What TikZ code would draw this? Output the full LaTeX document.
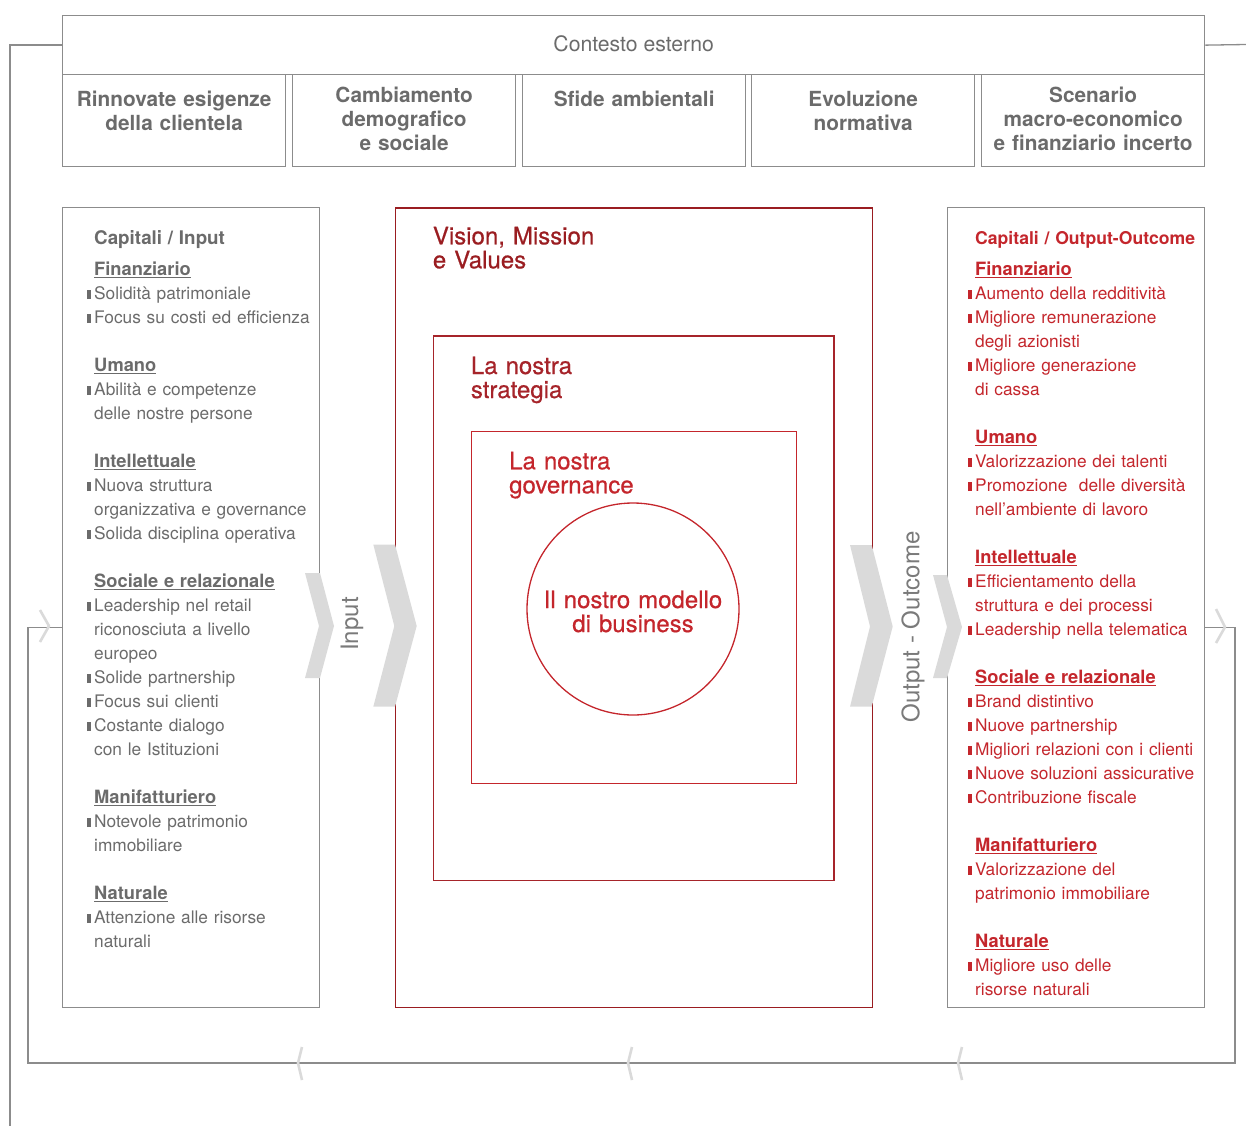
\documentclass[tikz,border=0pt]{standalone}
\usepackage{fontspec}
\setmainfont{TeX Gyre Heros}
\newfontfamily\medio[FakeBold=0.6]{TeX Gyre Heros}
\usetikzlibrary{positioning}

\definecolor{grigio}{HTML}{6B6B6B}
\definecolor{tenue}{HTML}{7A7A7A}
\definecolor{lineagrigia}{HTML}{8C8C8C}
\definecolor{chiaro}{HTML}{DADADA}
\definecolor{rosso}{HTML}{C4262C}
\definecolor{scuro}{HTML}{9A1D21}
\definecolor{cupo}{HTML}{A6242A}

\newcommand\tacca{\leavevmode\llap{\rule{3.8pt}{9.5pt}\hspace{3pt}}}
\newcommand\capo[1]{\leavevmode\setbox0\hbox{\fontsize{18.3}{24}\selectfont\bfseries #1}\rlap{\rule[-3.2pt]{\wd0}{1.3pt}}\box0}

\begin{document}
\begin{tikzpicture}
        [%%%%%%%%%%%%%%%%%%%%%%%%%%%%%%
        x=1pt,y=-1pt,
        cornice/.style={rectangle,draw=lineagrigia,line width=1.3pt,inner sep=0pt,anchor=north west},
        titolo/.style={anchor=base,align=center,text width=220pt,inner sep=0pt,text=grigio,font=\fontsize{20.8}{24}\selectfont\bfseries},
        colonna/.style={anchor=base west,align=left,text width=300pt,inner sep=0pt,font=\fontsize{17.3}{24}\selectfont},
        voce/.style={anchor=base west,align=left,text width=250pt,inner sep=0pt,font=\medio\fontsize{24}{24}\selectfont},
        verticale/.style={rotate=90,inner sep=0pt,text=tenue,font=\fontsize{24}{24}\selectfont},
        freccia/.style={fill=chiaro},
        segno/.style={draw=chiaro,line width=2.6pt,line join=round},
        filo/.style={draw=lineagrigia,line width=1.3pt},
        ]%%%%%%%%%%%%%%%%%%%%%%%%%%%%%%

        \useasboundingbox (0,0) rectangle (1246,1126);

        % contesto esterno
        \node[cornice,minimum width=1142pt,minimum height=59pt] (contesto) at (62,15){};
        \node[anchor=base,inner sep=0pt,text=grigio,font=\fontsize{21.2}{24}\selectfont] (ctxt) at ([yshift=-37pt]contesto.north){Contesto esterno};

        \foreach \i/\x in {1/62,2/292,3/522,4/751,5/981}
          \node[cornice,minimum width=223pt,minimum height=92pt] (sfida\i) at (\x,74){};

        \node[titolo] (t1) at ([yshift=-32.5pt]sfida1.north){Rinnovate esigenze\\della clientela};
        \node[titolo] (t2) at ([yshift=-28.5pt]sfida2.north){Cambiamento\\demografico\\e sociale};
        \node[titolo] (t3) at ([yshift=-32.5pt]sfida3.north){Sfide ambientali};
        \node[titolo] (t4) at ([yshift=-32.5pt]sfida4.north){Evoluzione\\normativa};
        \node[titolo] (t5) at ([yshift=-28.5pt]sfida5.north){Scenario\\macro-economico\\e finanziario incerto};

        % cornici principali
        \node[cornice,minimum width=257pt,minimum height=800pt] (boxIn) at (62,207){};
        \node[cornice,minimum width=257pt,minimum height=800pt] (boxOut) at (947,207){};
        \node[cornice,draw=scuro,minimum width=476.7pt,minimum height=799.7pt] (vision) at (395,207.3){};
        \node[cornice,draw=cupo,minimum width=400.6pt,minimum height=544.7pt] (strategia) at (432.7,335.3){};
        \node[cornice,draw=rosso,minimum width=325pt,minimum height=352pt] (governance) at (470.7,431){};
        \node[circle,draw=rosso,line width=1.3pt,minimum size=212pt,inner sep=0pt] (modello) at (633,609){};

        \node[voce,text=scuro] (vtxt) at (432.7,244.3){Vision, Mission\\e Values};
        \node[voce,text=cupo] (stxt) at (470.7,374){La nostra\\strategia};
        \node[voce,text=rosso] (gtxt) at (509,469.3){La nostra\\governance};
        \node[voce,text=rosso,anchor=base,align=center] (mtxt) at ([yshift=1pt]modello.center){Il nostro modello\\di business};

        % capitali in ingresso
        \node[colonna,text=grigio] (capIn) at (94,244){%
          {\fontsize{18.8}{24}\selectfont\bfseries Capitali / Input}\\[7pt]
          \capo{Finanziario}\\
          \tacca Solidità patrimoniale\\
          \tacca Focus su costi ed efficienza\\[24pt]
          \capo{Umano}\\
          \tacca Abilità e competenze\\
          delle nostre persone\\[24pt]
          \capo{Intellettuale}\\
          \tacca Nuova struttura\\
          organizzativa e governance\\
          \tacca Solida disciplina operativa\\[24pt]
          \capo{Sociale e relazionale}\\
          \tacca Leadership nel retail\\
          riconosciuta a livello\\
          europeo\\
          \tacca Solide partnership\\
          \tacca Focus sui clienti\\
          \tacca Costante dialogo\\
          con le Istituzioni\\[24pt]
          \capo{Manifatturiero}\\
          \tacca Notevole patrimonio\\
          immobiliare\\[24pt]
          \capo{Naturale}\\
          \tacca Attenzione alle risorse\\
          naturali};

        % capitali in uscita
        \node[colonna,text=rosso] (capOut) at (975,244){%
          {\fontsize{17.6}{24}\selectfont\bfseries Capitali / Output-Outcome}\\[7pt]
          \capo{Finanziario}\\
          \tacca Aumento della redditività\\
          \tacca Migliore remunerazione\\
          degli azionisti\\
          \tacca Migliore generazione\\
          di cassa\\[24pt]
          \capo{Umano}\\
          \tacca Valorizzazione dei talenti\\
          \tacca Promozione\ \ delle diversità\\
          nell’ambiente di lavoro\\[24pt]
          \capo{Intellettuale}\\
          \tacca Efficientamento della\\
          struttura e dei processi\\
          \tacca Leadership nella telematica\\[24pt]
          \capo{Sociale e relazionale}\\
          \tacca Brand distintivo\\
          \tacca Nuove partnership\\
          \tacca Migliori relazioni con i clienti\\
          \tacca Nuove soluzioni assicurative\\
          \tacca Contribuzione fiscale\\[24pt]
          \capo{Manifatturiero}\\
          \tacca Valorizzazione del\\
          patrimonio immobiliare\\[24pt]
          \capo{Naturale}\\
          \tacca Migliore uso delle\\
          risorse naturali};

        % frecce
        \fill[freccia] (305,573) -- (320,573) -- (334,626) -- (320,678) -- (305,678) -- (319,626) -- cycle;
        \fill[freccia] (373.3,544.5) -- (395,544.5) -- (416.7,626) -- (395,706.7) -- (373.3,706.7) -- (394.3,626) -- cycle;
        \fill[freccia] (850,545) -- (871.7,545) -- (892.7,626.5) -- (871.7,706.7) -- (850,706.7) -- (870,626.5) -- cycle;
        \fill[freccia] (933,575) -- (947,575) -- (962,627) -- (947,678) -- (933,678) -- (947,627) -- cycle;
        \node[verticale] (input) at (352,624){Input};
        \node[verticale] (output) at (913,627){Output - Outcome};

        % ciclo di ritorno
        \coordinate (angoloA) at (28,1063);
        \coordinate (angoloB) at (1235,1063);
        \coordinate (piede) at (10,1126);
        \coordinate (bordo) at (1246,44.5);
        \draw[filo] ([yshift=-20pt]boxIn.west) -| (angoloA) -- (angoloB) |- ([yshift=-20pt]boxOut.east);
        \draw[filo] (contesto.west) -| (piede);
        \draw[filo] (contesto.east) -- (bordo);

        \draw[segno] (40,610) -- (49,626) -- (40,642);
        \draw[segno] (1216,609) -- (1225,627) -- (1216,643);
        \foreach \x in {302,632,962}
          \draw[segno] (\x,1047) -- (\x-4,1063) -- (\x,1080);

      \end{tikzpicture}
\end{document}
